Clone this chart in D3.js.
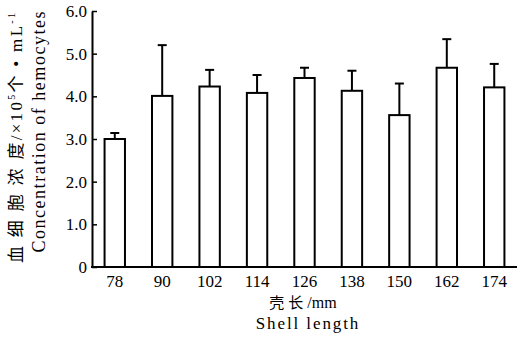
<!DOCTYPE html>
<html>
<head>
<meta charset="utf-8">
<script src="https://cdn.jsdelivr.net/npm/d3@7"></script>
<style>
  body { margin: 0; background: #fff; }
  text { font-family: "Liberation Serif", "Noto Sans CJK SC", serif; fill: #000; }
</style>
</head>
<body>
<script>
/*data*/
const shellLength = ['78', '90', '102', '114', '126', '138', '150', '162', '174'];
const meanValue = [3.00, 4.01, 4.23, 4.08, 4.43, 4.13, 3.56, 4.67, 4.21];
const sdValue = [0.14, 1.19, 0.39, 0.42, 0.24, 0.47, 0.74, 0.67, 0.55];
const yTicks = [0, 1, 2, 3, 4, 5, 6];

const width = 517;
const height = 339;

const svg = d3.select('body').append('svg')
    .attr('width', width)
    .attr('height', height);

/*scales*/
const xScale = d3.scaleBand()
    .domain(shellLength)
    .range([92, 517])
    .paddingInner(0.57)
    .paddingOuter(0.265);
const yScale = d3.scaleLinear()
    .domain([0, 6])
    .range([267, 11]);

/*bars*/
svg.append('g').selectAll('rect').data(shellLength).enter().append('rect')
    .attr('x', d => xScale(d))
    .attr('y', (d, i) => yScale(meanValue[i]))
    .attr('width', xScale.bandwidth())
    .attr('height', (d, i) => yScale(0) - yScale(meanValue[i]))
    .attr('fill', '#fff')
    .attr('stroke', '#000')
    .attr('stroke-width', 2);

/*error bars (upper half only)*/
const err = svg.append('g').attr('stroke', '#000').attr('stroke-width', 2);
shellLength.forEach((d, i) => {
    const cx = xScale(d) + xScale.bandwidth() / 2;
    const top = yScale(meanValue[i] + sdValue[i]);
    err.append('line')
        .attr('x1', cx).attr('x2', cx)
        .attr('y1', yScale(meanValue[i])).attr('y2', top);
    err.append('line')
        .attr('x1', cx - 4.5).attr('x2', cx + 4.5)
        .attr('y1', top).attr('y2', top);
});

/*x axis*/
const xAxis = svg.append('g')
    .attr('transform', `translate(0,${yScale(0)})`)
    .call(d3.axisBottom(xScale).tickSize(0).tickPadding(8));
xAxis.select('.domain').attr('stroke-width', 2).attr('d', 'M91,0H517');
xAxis.selectAll('text').attr('font-size', 17);

/*y axis, ticks pointing inward*/
const yAxis = svg.append('g')
    .attr('transform', 'translate(92,0)')
    .call(d3.axisLeft(yScale).tickValues(yTicks).tickSizeInner(-5).tickSizeOuter(0).tickPadding(5)
        .tickFormat(d => d === 0 ? '0' : d.toFixed(1)));
yAxis.select('.domain').attr('stroke-width', 2);
yAxis.selectAll('.tick line').attr('stroke-width', 1.5);
yAxis.selectAll('text').attr('font-size', 17);

/*x title*/
const xt = svg.append('text')
    .attr('x', 303).attr('y', 308)
    .attr('text-anchor', 'middle')
    .attr('font-size', 16);
xt.append('tspan').attr('font-size', 15).attr('letter-spacing', 4).text('壳长');
xt.append('tspan').text('/mm');
svg.append('text')
    .attr('x', 308).attr('y', 329)
    .attr('text-anchor', 'middle')
    .attr('font-size', 17)
    .attr('letter-spacing', 1.9)
    .text('Shell length');

/*y title, two lines*/
const yt1 = svg.append('text')
    .attr('transform', 'translate(22,138) rotate(-90)')
    .attr('text-anchor', 'middle')
    .attr('font-size', 17)
    .attr('textLength', 250)
    .attr('lengthAdjust', 'spacing');
yt1.append('tspan').text('血 细 胞 浓 度/×10');
yt1.append('tspan').attr('font-size', 10).attr('dy', -7).text('5');
yt1.append('tspan').attr('dy', 7).text('个 • mL');
yt1.append('tspan').attr('font-size', 10).attr('dy', -7).text('-1');

svg.append('text')
    .attr('transform', 'translate(45,132) rotate(-90)')
    .attr('text-anchor', 'middle')
    .attr('font-size', 18)
    .attr('textLength', 241)
    .attr('lengthAdjust', 'spacing')
    .text('Concentration of hemocytes');
</script>
</body>
</html>
